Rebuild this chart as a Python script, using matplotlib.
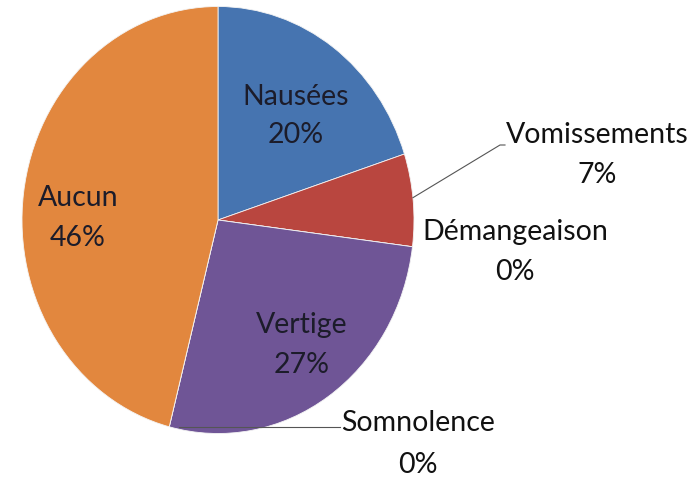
import numpy as np
import matplotlib
matplotlib.use("Agg")
import matplotlib.pyplot as plt

plt.rcParams['font.family'] = ['Lato', 'DejaVu Sans']

labels = ["Nausées", "Vomissements", "Démangeaison", "Vertige", "Somnolence", "Aucun"]
values = [20, 7, 0, 27, 0, 46]
colors = ["#4674B0", "#B9463F", "#9BBB59", "#6F5596", "#4BACC6", "#E2873E"]

# label centres in pixels (x, y of name line, y of percent line)
label_pos = {
    "Nausées": (296, 97, 135),
    "Vomissements": (597, 135, 175),
    "Démangeaison": (515, 232, 272),
    "Vertige": (302, 325, 365),
    "Somnolence": (418, 423, 465),
    "Aucun": (78, 198, 238),
}
inside = ["Nausées", "Vertige", "Aucun"]

W, H = 693, 478
cx, cy, rx, ry = 218, 220, 196, 213.5

fig = plt.figure(figsize=(W / 100, H / 100), dpi=100)
ax = fig.add_axes([0, 0, 1, 1])
wedges, _ = ax.pie(values, colors=colors, startangle=90, counterclock=False,
                   wedgeprops=dict(edgecolor="#f4f4f4", linewidth=0.6))
ax.set_aspect("auto")
ax.set_xlim(-cx / rx, (W - cx) / rx)
ax.set_ylim((cy - H) / ry, cy / ry)
ax.axis("off")


def px(x, y):
    return x / W, 1 - y / H


total = sum(values)
for name, v in zip(labels, values):
    x, y1, y2 = label_pos[name]
    col = "#1c1c2a" if name in inside else "#111111"
    fig.text(*px(x, y1), name, ha="center", va="center", fontsize=20.5, color=col)
    fig.text(*px(x, y2), f"{round(100 * v / total)}%", ha="center", va="center",
             fontsize=20.5, color=col)

# leader lines
ang = np.deg2rad(6)
ax.plot([np.cos(ang), (500 - cx) / rx, (505 - cx) / rx],
        [np.sin(ang), (cy - 145) / ry, (cy - 145) / ry], color="#555555", lw=0.8)
ang = np.deg2rad(wedges[4].theta1)
ax.plot([np.cos(ang) + 0.05, (340 - cx) / rx], [np.sin(ang), np.sin(ang)],
        color="#555555", lw=0.8)

fig.savefig("out.png", dpi=100)
